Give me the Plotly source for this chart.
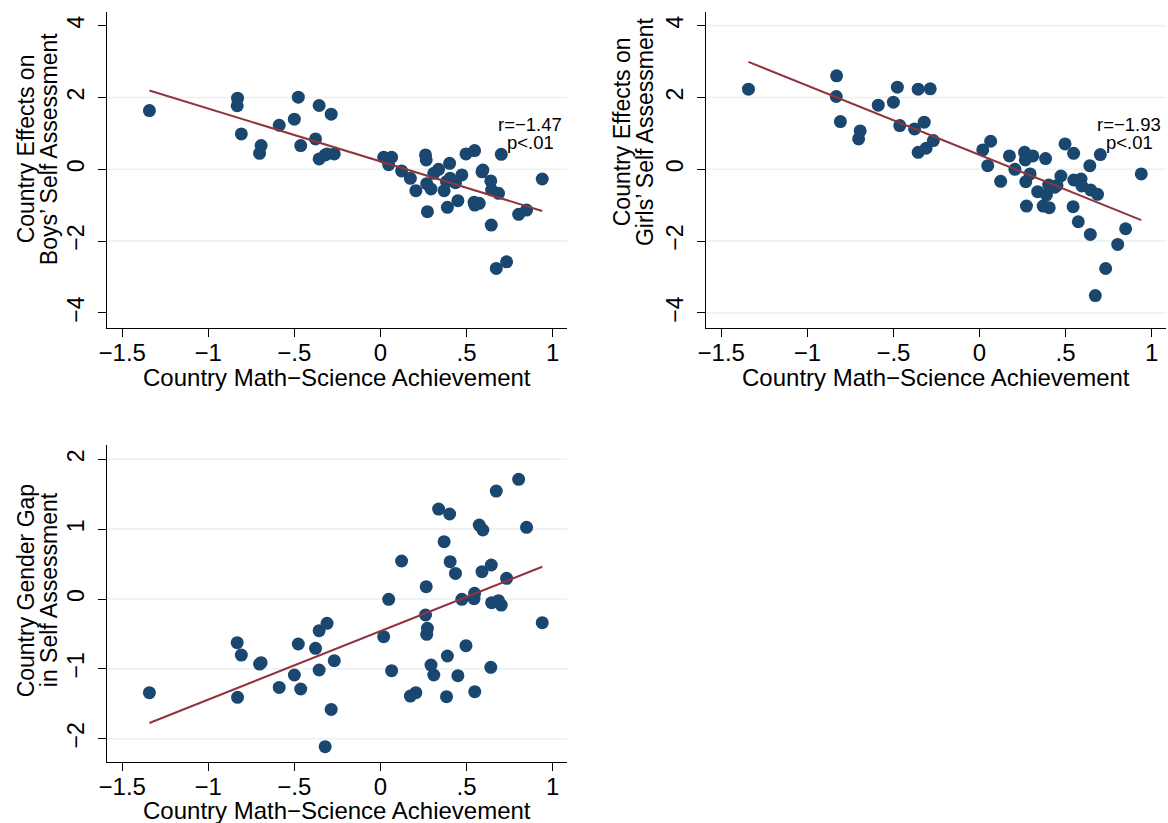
import plotly.graph_objects as go

W, H = 1168, 823

# Country-level estimates (one entry per country)
achievement = [
    -1.342, -0.830, -0.832, -0.808, -0.702, -0.693, -0.588, -0.500, -0.477, -0.463,
    -0.377, -0.356, -0.356, -0.321, -0.310, -0.286, -0.268,
    0.019, 0.048, 0.065, 0.123, 0.174, 0.206, 0.262, 0.266, 0.269, 0.273,
    0.294, 0.310, 0.338, 0.370, 0.384, 0.389, 0.402, 0.405, 0.436, 0.450,
    0.473, 0.497, 0.547, 0.544, 0.548, 0.574, 0.595, 0.590, 0.644, 0.646,
    0.686, 0.702, 0.641, 0.673, 0.733, 0.803, 0.849, 0.940,
]
boys_effect = [
    1.636, 1.980, 1.770, 0.986, 0.446, 0.660, 1.227, 1.395, 2.008, 0.660,
    0.846, 1.776, 0.288, 0.400, 0.428, 1.534, 0.428,
    0.335, 0.130, 0.335, -0.046, -0.251, -0.595, 0.400, 0.260, -0.400, -1.180,
    -0.549, -0.112, 0.000, -0.595, -0.344, -1.060, 0.167, -0.251, -0.372, -0.874,
    -0.158, 0.428, 0.521, -0.920, -0.995, -0.948, -0.019, -0.070, -1.553, -0.576,
    -0.669, 0.418, -0.325, -2.760, -2.576, -1.255, -1.134, -0.270,
]
girls_effect = [
    2.232, 2.603, 2.027, 1.330, 0.846, 1.069, 1.785, 1.869, 2.287, 1.218,
    1.125, 2.232, 0.474, 1.311, 0.586, 2.241, 0.800,
    0.539, 0.102, 0.781, -0.335, 0.372, 0.000, 0.474, 0.260, -0.344, -1.023,
    -0.130, 0.372, -0.623, -1.023, 0.298, -0.716, -0.437, -1.069, -0.502, -0.450,
    -0.186, 0.707, 0.446, -1.041, -0.298, -1.460, -0.465, -0.270, -1.813, -0.576,
    -0.697, 0.409, 0.102, -3.515, -2.762, -2.092, -1.655, -0.130,
]
gender_gap = [
    -1.341, -1.408, -0.625, -0.802, -0.931, -0.911, -1.265, -1.088, -0.644, -1.288,
    -0.706, -1.016, -0.453, -2.114, -0.348, -1.580, -0.883,
    -0.539, -0.005, -1.026, 0.544, -1.389, -1.341, -0.229, 0.177, -0.506, -0.420,
    -0.945, -1.088, 1.288, 0.821, -1.398, -0.816, 1.217, 0.534, 0.367, -1.098,
    -0.005, -0.668, 0.081, 0.005, -1.327, 1.059, 0.988, 0.391, 0.487, -0.052,
    -0.024, -0.086, -0.978, 1.546, 0.296, 1.713, 1.026, -0.339,
]

# Linear fits: (slope, intercept)
fit_boys = (-1.47, 0.22)
fit_girls = (-1.93, 0.40)
fit_gap = (0.98, -0.46)

x_ticks = [-1.5, -1, -0.5, 0, 0.5, 1]
x_tick_text = ["\u22121.5", "\u22121", "\u2212.5", "0", ".5", "1"]
y_ticks_effect = [-4, -2, 0, 2, 4]
y_tick_text_effect = ["\u22124", "\u22122", "0", "2", "4"]
y_ticks_gap = [-2, -1, 0, 1, 2]
y_tick_text_gap = ["\u22122", "\u22121", "0", "1", "2"]

NAVY = "#1a476f"
MAROON = "#90353b"
GRID = "#eaf2f3"
FONT = "Liberation Sans, Arial, sans-serif"
XTICK_SIZE = 24
YTICK_SIZE = 23
XTITLE_SIZE = 24
YTITLE_SIZE = 23


def fx(px):
    return px / W


def fy(py):
    return 1 - py / H


# Panel geometry in pixels: (left, right, top, bottom)
panels = {
    "1": (99, 562.7, 11.7, 328.3),
    "2": (702.7, 1166.4, 11.7, 328.3),
    "3": (99, 562.7, 445, 761.7),
}

fig = go.Figure()

series = [
    ("1", boys_effect, fit_boys),
    ("2", girls_effect, fit_girls),
    ("3", gender_gap, fit_gap),
]
for key, yvals, (slope, icpt) in series:
    xa = "x" if key == "1" else "x" + key
    ya = "y" if key == "1" else "y" + key
    fig.add_trace(go.Scatter(
        x=achievement, y=yvals, mode="markers", xaxis=xa, yaxis=ya,
        marker=dict(color=NAVY, size=13, line=dict(width=0)),
        showlegend=False, hoverinfo="skip",
    ))
    xs = [min(achievement), max(achievement)]
    fig.add_trace(go.Scatter(
        x=xs, y=[icpt + slope * v for v in xs], mode="lines", xaxis=xa, yaxis=ya,
        line=dict(color=MAROON, width=2), showlegend=False, hoverinfo="skip",
    ))

x_range = [-1.587, 1.086]
y_range_effect = [-4.427, 4.388]
y_range_gap = [-2.329, 2.205]

axis_common = dict(
    showline=True, linecolor="#000000", linewidth=1.2,
    ticks="outside", ticklen=8, tickwidth=1.2, tickcolor="#000000",
    showgrid=False, zeroline=False, mirror=False,
)

layout = dict(
    width=W, height=H,
    margin=dict(l=0, r=0, t=0, b=0),
    paper_bgcolor="white", plot_bgcolor="white",
    showlegend=False,
)

for key, (l, r, t, b) in panels.items():
    xname = "xaxis" if key == "1" else "xaxis" + key
    yname = "yaxis" if key == "1" else "yaxis" + key
    anchor_x = "y" if key == "1" else "y" + key
    anchor_y = "x" if key == "1" else "x" + key
    layout[xname] = dict(
        axis_common, domain=[fx(l), fx(r)], range=x_range, anchor=anchor_x,
        tickmode="array", tickvals=x_ticks, ticktext=x_tick_text,
        tickfont=dict(family=FONT, size=XTICK_SIZE, color="#000000"),
        ticklabelstandoff=-5,
    )
    if key == "3":
        yv, yt, yr = y_ticks_gap, y_tick_text_gap, y_range_gap
    else:
        yv, yt, yr = y_ticks_effect, y_tick_text_effect, y_range_effect
    layout[yname] = dict(
        axis_common, domain=[fy(b), fy(t)], range=yr, anchor=anchor_y,
        tickmode="array", tickvals=yv, ticktext=yt, tickangle=-90,
        tickfont=dict(family=FONT, size=YTICK_SIZE, color="#000000"),
        ticklabelstandoff=5,
    )

fig.update_layout(**layout)

# Horizontal gridlines
grid_levels = {"1": [-2, 0, 2], "2": [-4, -2, 0, 2, 4], "3": [-2, -1, 0, 1, 2]}
for key, levels in grid_levels.items():
    xr = "x domain" if key == "1" else "x" + key + " domain"
    yr = "y" if key == "1" else "y" + key
    for lv in levels:
        fig.add_shape(type="line", xref=xr, yref=yr, x0=0, x1=1, y0=lv, y1=lv,
                      line=dict(color=GRID, width=1.6), layer="below")

annotations = []


def text(x, y, s, size, angle=0, xref="paper", yref="paper"):
    annotations.append(dict(
        x=x, y=y, xref=xref, yref=yref, text=s, showarrow=False,
        textangle=angle, xanchor="center", yanchor="middle",
        font=dict(family=FONT, size=size, color="#000000"),
    ))


# x-axis titles
for key, (l, r, t, b) in panels.items():
    text(fx((l + r) / 2), fy(b + 49), "Country Math\u2212Science Achievement", XTITLE_SIZE)

# y-axis titles (two lines each)
y_titles = [
    (17.5, 40.5, 149, "Country Effects on", "Boys\u2019 Self Assessment"),
    (618, 641, 132, "Country Effects on", "Girls\u2019 Self Assessment"),
    (17.5, 40.5, 590, "Country Gender Gap", "in Self Assessment"),
]
for x1, x2, yc, line1, line2 in y_titles:
    text(fx(x1), fy(yc), line1, YTITLE_SIZE, angle=-90)
    text(fx(x2), fy(yc), line2, YTITLE_SIZE, angle=-90)

# Coefficient labels
for xa, ya, label in [("x", "y", "r=\u22121.47"), ("x2", "y2", "r=\u22121.93")]:
    text(0.87, 1.24, label, 18.5, xref=xa, yref=ya)
    text(0.87, 0.76, "p<.01", 18.5, xref=xa, yref=ya)

fig.update_layout(annotations=annotations)

fig.write_html("out.html")
